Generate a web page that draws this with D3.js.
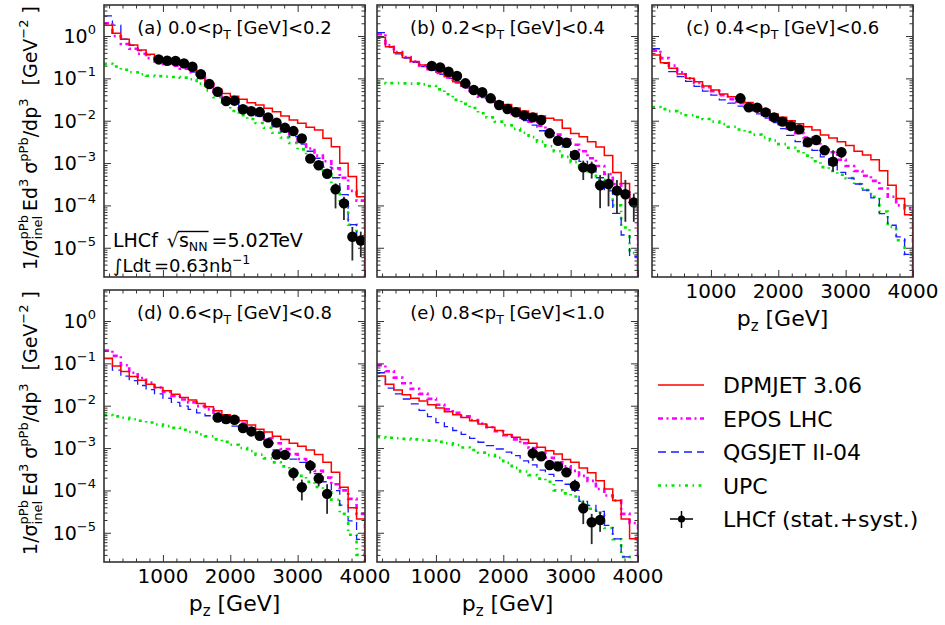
<!DOCTYPE html>
<html><head><meta charset="utf-8">
<script src="https://cdn.jsdelivr.net/npm/d3@7"></script>
<style>
body{margin:0;background:#fff}
text{font-family:"DejaVu Sans",sans-serif;fill:#000}
</style>
</head><body><svg id="c" width="945" height="625"></svg>
<script>
// ---------------- DATA ----------------
const binEdges = [125,250,375,500,625,750,875,1000,1125,1250,1375,1500,1625,1750,1875,2000,
  2125,2250,2375,2500,2625,2750,2875,3000,3125,3250,3375,3500,3625,3750,3875,4000];

const panelTags = ['(a)','(b)','(c)','(d)','(e)'];
const ptLow  = ['0.0','0.2','0.4','0.6','0.8'];
const ptHigh = ['0.2','0.4','0.6','0.8','1.0'];

const seriesNames = ['DPMJET 3.06','EPOS LHC','QGSJET II-04','UPC'];
const dataName = 'LHCf (stat.+syst.)';

// panel (a) 0.0<pT<0.2
const dpmjetA = [1.8,1.16,0.84,0.61,0.47,0.37,0.30,0.26,0.235,0.205,0.175,0.135,0.079,0.055,0.044,0.038,0.032,0.0266,0.0235,0.0196,0.0163,0.0129,0.0104,0.0087,0.0070,0.0060,0.00384,0.00244,0.00099,0.00048,0.00016];
const eposA   = [2.0,1.0,0.65,0.5,0.38,0.30,0.25,0.22,0.20,0.17,0.14,0.105,0.072,0.048,0.033,0.027,0.021,0.017,0.0135,0.0105,0.008,0.0062,0.0048,0.0033,0.0022,0.0015,0.0011,0.00075,0.00045,0.00022,0.00013];
const qgsA    = [3.0,1.8,0.84,0.6,0.45,0.36,0.29,0.24,0.21,0.18,0.14,0.10,0.07,0.045,0.030,0.026,0.019,0.016,0.013,0.010,0.0075,0.0055,0.0042,0.0028,0.0019,0.0013,0.0008,0.00045,0.00018,3.5e-5,1.5e-5];
const upcA    = [0.22,0.19,0.16,0.14,0.125,0.115,0.113,0.11,0.108,0.104,0.095,0.075,0.052,0.036,0.024,0.017,0.0135,0.011,0.0088,0.0068,0.0052,0.0040,0.0030,0.0021,0.0014,0.0009,0.00055,0.00028,0.00011,3.5e-5,1.3e-5];
const lhcfStartA = 6;
const lhcfA   = [0.28,0.26,0.257,0.226,0.188,0.125,0.0736,0.0484,0.0292,0.0297,0.0186,0.0167,0.016,0.012,0.0090,0.0068,0.0057,0.0038,0.00127,0.00089,0.00056,0.00024,0.000112,1.82e-5,1.48e-5];
const lhcfLoA = [0.26,0.24,0.24,0.21,0.175,0.116,0.068,0.045,0.027,0.0275,0.0172,0.0154,0.0148,0.011,0.0083,0.0062,0.0052,0.0034,0.00113,0.00078,0.00045,8.5e-5,4.5e-5,5e-6,6e-6];
const lhcfHiA = [0.30,0.28,0.275,0.243,0.202,0.134,0.079,0.052,0.0315,0.032,0.020,0.018,0.0173,0.013,0.0098,0.0075,0.0063,0.0042,0.00142,0.001,0.00068,0.00033,0.00016,3.1e-5,2.4e-5];

// panel (b) 0.2<pT<0.4
const dpmjetB = [0.93,0.56,0.40,0.31,0.25,0.207,0.173,0.144,0.11,0.083,0.065,0.053,0.042,0.034,0.028,0.024,0.020,0.017,0.0148,0.013,0.0115,0.0104,0.0066,0.0050,0.0042,0.0032,0.0024,0.0015,0.0006,0.00033,0.000134];
const eposB   = [1.1,0.6,0.42,0.32,0.25,0.2,0.165,0.135,0.105,0.08,0.062,0.047,0.037,0.029,0.023,0.018,0.0145,0.0118,0.0095,0.0076,0.006,0.0047,0.0036,0.0027,0.0019,0.0013,0.00085,0.00055,0.00032,0.0002,0.00012];
const qgsB    = [1.2,0.55,0.38,0.30,0.24,0.19,0.155,0.125,0.10,0.078,0.06,0.046,0.035,0.027,0.021,0.0165,0.013,0.010,0.0079,0.0058,0.0044,0.0032,0.0024,0.0015,0.0011,0.0007,0.00045,0.00022,6.5e-5,2e-5,6.3e-6];
const upcB    = [0.078,0.077,0.077,0.076,0.075,0.072,0.066,0.055,0.042,0.031,0.025,0.020,0.015,0.012,0.0095,0.0078,0.0064,0.0052,0.0041,0.0032,0.0025,0.0019,0.0014,0.00105,0.0008,0.00058,0.0004,0.00024,0.0001,3e-5,7.5e-6];
const lhcfStartB = 6;
const lhcfB   = [0.196,0.182,0.1435,0.1135,0.0764,0.0531,0.0469,0.0338,0.0235,0.0189,0.0158,0.0134,0.0120,0.0104,0.00504,0.00337,0.00302,0.00155,0.00079,0.00075,0.000299,0.000321,0.000223,0.000183,0.000118];
const lhcfLoB = [0.182,0.169,0.133,0.105,0.071,0.049,0.0435,0.031,0.0218,0.0175,0.0146,0.0124,0.0111,0.0096,0.0046,0.003,0.0027,0.0012,0.000398,0.00043,8.6e-5,9.5e-5,6.4e-5,4.1e-5,4.1e-5];
const lhcfHiB = [0.21,0.195,0.154,0.122,0.082,0.057,0.050,0.0365,0.0252,0.0203,0.017,0.0144,0.0129,0.0112,0.0055,0.0037,0.0033,0.002,0.00114,0.00108,0.00052,0.00057,0.0004,0.0004,0.00019];

// panel (c) 0.4<pT<0.6
const dpmjetC = [0.356,0.234,0.173,0.127,0.10,0.083,0.066,0.053,0.043,0.037,0.032,0.027,0.022,0.018,0.0145,0.012,0.01,0.0085,0.0072,0.006,0.0046,0.0039,0.0032,0.0026,0.0019,0.00155,0.0012,0.00066,0.0003,0.000146,6.0e-5];
const eposC   = [0.45,0.3,0.2,0.14,0.1,0.078,0.062,0.05,0.04,0.032,0.026,0.021,0.017,0.0135,0.0108,0.0085,0.0066,0.0051,0.004,0.0031,0.0024,0.0018,0.0012,0.00085,0.00065,0.0005,0.00038,0.00025,0.00016,0.0001,8.5e-5];
const qgsC    = [0.5,0.226,0.144,0.11,0.085,0.065,0.05,0.04,0.031,0.026,0.022,0.018,0.0145,0.0115,0.009,0.0065,0.0045,0.0032,0.0025,0.002,0.0014,0.0009,0.0006,0.00044,0.00032,0.00023,0.00015,6.4e-5,3.4e-5,1.8e-5,7e-6];
const upcC    = [0.021,0.0188,0.0168,0.015,0.0135,0.0122,0.011,0.0095,0.0083,0.0072,0.0062,0.0054,0.0047,0.004,0.0034,0.0028,0.0023,0.0019,0.0015,0.0011,0.0008,0.00065,0.00053,0.00044,0.00032,0.00023,0.00016,7.2e-5,3.1e-5,1.5e-5,7e-6];
const lhcfStartC = 10;
const lhcfC   = [0.0338,0.0207,0.0203,0.0157,0.0120,0.0095,0.0075,0.00625,0.0031,0.0035,0.0020,0.00108,0.0018];
const lhcfLoC = [0.031,0.019,0.0187,0.0144,0.011,0.0087,0.0068,0.0056,0.0026,0.0031,0.0016,0.00063,0.0013];
const lhcfHiC = [0.0366,0.0225,0.022,0.017,0.013,0.0103,0.0082,0.0069,0.0037,0.0039,0.0025,0.0020,0.0024];

// panel (d) 0.6<pT<0.8
const dpmjetD = [0.132,0.087,0.064,0.049,0.040,0.032,0.027,0.0225,0.0187,0.0157,0.0136,0.0113,0.0094,0.0076,0.0061,0.0053,0.0044,0.0035,0.0028,0.0024,0.0019,0.0016,0.0013,0.0011,0.0009,0.0007,0.00046,0.00027,0.000118,3.9e-5,2.1e-5];
const eposD   = [0.2,0.15,0.09,0.06,0.045,0.035,0.027,0.021,0.017,0.014,0.012,0.0098,0.0082,0.0068,0.0056,0.0046,0.0038,0.0029,0.0023,0.0017,0.0013,0.00095,0.00072,0.00055,0.0004,0.00029,0.0002,0.00014,0.0001,6.3e-5,2.8e-5];
const qgsD    = [0.13,0.069,0.05,0.039,0.03,0.024,0.019,0.015,0.012,0.0098,0.0082,0.0068,0.0058,0.0048,0.004,0.0033,0.0028,0.0023,0.0018,0.0014,0.0009,0.00072,0.00055,0.00046,0.00036,0.00025,0.00016,9.9e-5,4.5e-5,1.9e-5,7e-6];
const upcD    = [0.006,0.0056,0.0052,0.0048,0.0044,0.004,0.0036,0.0033,0.003,0.0027,0.0024,0.0021,0.0019,0.0016,0.0014,0.0012,0.001,0.00085,0.0007,0.00057,0.00046,0.00037,0.00029,0.00022,0.00016,0.00012,9e-5,6e-5,2.8e-5,9e-6,3e-6];
const lhcfStartD = 13;
const lhcfD   = [0.00528,0.00482,0.00466,0.00297,0.00247,0.00195,0.00131,0.00070,0.00069,0.000258,0.000119,0.000384,0.00019,8.3e-5];
const lhcfLoD = [0.0045,0.0044,0.0042,0.0027,0.00225,0.00178,0.0012,0.00063,0.00062,0.00017,5.8e-5,0.00025,0.000125,2.8e-5];
const lhcfHiD = [0.0062,0.0053,0.0051,0.0033,0.0027,0.00213,0.00143,0.00078,0.00077,0.00035,0.00018,0.00052,0.00026,0.00014];

// panel (e) 0.8<pT<1.0
const dpmjetE = [0.0506,0.0322,0.0234,0.0181,0.0151,0.013,0.0106,0.0088,0.0072,0.0061,0.0053,0.0044,0.0037,0.0031,0.0026,0.0021,0.0018,0.0016,0.0013,0.00105,0.00087,0.00072,0.00054,0.00046,0.00034,0.00026,0.000168,0.000108,5.8e-5,2.1e-5,7.2e-6];
const eposE   = [0.09,0.065,0.046,0.034,0.025,0.019,0.0145,0.0105,0.0082,0.0068,0.0056,0.0046,0.0038,0.0031,0.0025,0.002,0.0016,0.0013,0.001,0.00078,0.00059,0.00046,0.00037,0.00029,0.00022,0.000168,0.000108,7.6e-5,5.8e-5,2.8e-5,1.7e-5];
const qgsE    = [0.06,0.026,0.019,0.0144,0.011,0.0078,0.0055,0.004,0.0032,0.0026,0.0021,0.0017,0.00137,0.00114,0.00095,0.0008,0.00066,0.0005,0.0004,0.0003,0.00024,0.00017,0.00014,0.0001,5.5e-5,4.4e-5,3.2e-5,1.5e-5,7.2e-6,2.7e-6,1.5e-6];
const upcE    = [0.0018,0.00175,0.0017,0.00165,0.0016,0.00155,0.0015,0.0014,0.0013,0.00118,0.00103,0.0009,0.00078,0.00068,0.00059,0.00045,0.00034,0.00028,0.00023,0.00019,0.00016,0.0001,8.5e-5,7.2e-5,5e-5,3.7e-5,3e-5,1.3e-5,7e-6,2.7e-6,2e-6];
const lhcfStartE = 18;
const lhcfE   = [0.000748,0.000636,0.000398,0.00037,0.000267,0.00013,3.8e-5,1.77e-5,2.0e-5];
const lhcfLoE = [0.0005,0.00055,0.00033,0.00031,0.00023,9.2e-5,1.6e-5,5.4e-6,1.05e-5];
const lhcfHiE = [0.00104,0.00074,0.00048,0.00044,0.00031,0.00018,5.8e-5,2.8e-5,3.1e-5];

const yMajorTicks = [1e-5,1e-4,1e-3,1e-2,1e-1,1];
const yTickExp = ['−5','−4','−3','−2','−1','0'];
const xMajorTicks = [1000,2000,3000,4000];
const xTickLabels = ['1000','2000','3000','4000'];

// ---------------- LAYOUT / STYLE ----------------
const colors = ['#ff0000','#ff00ff','#1a1aff','#00e600'];
const widths = [1.5,2.6,1.3,2.6];
const dashes = [null,'5,3.5,2,3.5','8,5','3,4.5,1.5,4.5'];
const W = 261, H = 272;
const layout = [{x:104,y:5},{x:377,y:5},{x:652,y:5},{x:104,y:290},{x:377,y:290}];
const panels = [
  {series:[dpmjetA,eposA,qgsA,upcA], start:lhcfStartA, d:lhcfA, lo:lhcfLoA, hi:lhcfHiA},
  {series:[dpmjetB,eposB,qgsB,upcB], start:lhcfStartB, d:lhcfB, lo:lhcfLoB, hi:lhcfHiB},
  {series:[dpmjetC,eposC,qgsC,upcC], start:lhcfStartC, d:lhcfC, lo:lhcfLoC, hi:lhcfHiC},
  {series:[dpmjetD,eposD,qgsD,upcD], start:lhcfStartD, d:lhcfD, lo:lhcfLoD, hi:lhcfHiD},
  {series:[dpmjetE,eposE,qgsE,upcE], start:lhcfStartE, d:lhcfE, lo:lhcfLoE, hi:lhcfHiE},
];
const yLabelPanels = [0,3], xLabelPanels = [2,3,4];
const FRAME = '#333';

const svg = d3.select('#c');

function rich(parent, segs, x, y, anchor, rot) {
  const g = parent.append('g').attr('transform', `translate(${x},${y}) rotate(${rot||0})`);
  const inner = g.append('g');
  let cx = 0, prevStart = 0;
  segs.forEach(s => {
    if (s.gap !== undefined) { cx += s.gap; s._x0 = s._x1 = cx; return; }
    const start = s.stack ? prevStart : cx;
    const t = inner.append('text').attr('x', start).attr('y', s.dy || 0)
      .attr('font-size', s.fs).text(s.t);
    const w = t.node().getComputedTextLength();
    s._x0 = start; s._x1 = start + w;
    prevStart = start;
    cx = Math.max(cx, start + w);
  });
  const off = anchor === 'middle' ? -cx / 2 : anchor === 'end' ? -cx : 0;
  inner.attr('transform', `translate(${off},0)`);
  return {inner, segs, width: cx};
}

const x = d3.scaleLinear().domain([125, 4000]);
const yMin = 2.04e-6, yMax = 5.4;

const xMinor = d3.range(200, 4001, 200).filter(v => v % 1000 !== 0);
const yMinor = [];
for (let e = -6; e <= 0; e++) for (let k = 2; k <= 9; k++) { const v = k * Math.pow(10, e); if (v > yMin && v < yMax) yMinor.push(v); }

panels.forEach((p, pi) => {
  const L = layout[pi];
  const xs = x.copy().range([L.x, L.x + W]);
  const ys = d3.scaleLog().domain([yMin, yMax]).range([L.y + H, L.y]);
  const g = svg.append('g');
  const cid = 'clip' + pi;
  svg.append('clipPath').attr('id', cid).append('rect')
    .attr('x', L.x).attr('y', L.y).attr('width', W).attr('height', H);
  const plot = g.append('g').attr('clip-path', `url(#${cid})`);

  [3,2,1,0].forEach(si => {
    const vals = p.series[si];
    const path = d3.path();
    vals.forEach((v, i) => {
      const yy = ys(v);
      if (i === 0) path.moveTo(xs(binEdges[0]), yy); else path.lineTo(xs(binEdges[i]), yy);
      path.lineTo(xs(binEdges[i + 1]), yy);
    });
    path.lineTo(xs(binEdges[binEdges.length - 1]), L.y + H + 5);
    const el = plot.append('path').attr('d', path.toString()).attr('fill', 'none')
      .attr('stroke', colors[si]).attr('stroke-width', widths[si]);
    if (dashes[si]) el.attr('stroke-dasharray', dashes[si]);
  });

  p.d.forEach((v, k) => {
    const b = p.start + k;
    const cxv = xs((binEdges[b] + binEdges[b + 1]) / 2);
    plot.append('line').attr('x1', cxv).attr('x2', cxv)
      .attr('y1', ys(p.lo[k])).attr('y2', ys(p.hi[k]))
      .attr('stroke', '#2a2a2a').attr('stroke-width', 1.8);
    plot.append('circle').attr('cx', cxv).attr('cy', ys(v)).attr('r', 5.2).attr('fill', '#000');
  });

  const mk = (axis, tx, ty) => {
    const a = g.append('g').attr('transform', `translate(${tx},${ty})`).call(axis.tickFormat(''));
    a.select('.domain').remove();
    a.selectAll('line').attr('stroke', FRAME).attr('stroke-width', 1);
  };
  mk(d3.axisLeft(ys).tickValues(yMajorTicks).tickSize(-7), L.x, 0);
  mk(d3.axisLeft(ys).tickValues(yMinor).tickSize(-3.5), L.x, 0);
  mk(d3.axisRight(ys).tickValues(yMajorTicks).tickSize(-7), L.x + W, 0);
  mk(d3.axisRight(ys).tickValues(yMinor).tickSize(-3.5), L.x + W, 0);
  mk(d3.axisBottom(xs).tickValues(xMajorTicks).tickSize(-7), 0, L.y + H);
  mk(d3.axisBottom(xs).tickValues(xMinor).tickSize(-3.5), 0, L.y + H);
  mk(d3.axisTop(xs).tickValues(xMajorTicks).tickSize(-7), 0, L.y);
  mk(d3.axisTop(xs).tickValues(xMinor).tickSize(-3.5), 0, L.y);

  g.append('rect').attr('x', L.x).attr('y', L.y).attr('width', W).attr('height', H)
    .attr('fill', 'none').attr('stroke', FRAME).attr('stroke-width', 1.6);

  rich(g, [{t: panelTags[pi] + ' ' + ptLow[pi] + '<p', fs: 18}, {t: 'T', fs: 12.5, dy: 4.5},
           {gap: 5.7}, {t: '[GeV]<' + ptHigh[pi], fs: 18}], L.x + W / 2, L.y + 29, 'middle');

  if (yLabelPanels.includes(pi)) {
    yMajorTicks.forEach((v, i) => {
      rich(g, [{t: '10', fs: 19}, {t: yTickExp[i], fs: 13, dy: -9}], L.x - 8, ys(v) + 7, 'end');
    });
    rich(g, [{t: '1/σ', fs: 19}, {t: 'pPb', fs: 13, dy: -9}, {t: 'inel', fs: 13, dy: 5, stack: true},
             {gap: 4}, {t: 'Ed', fs: 19}, {t: '3', fs: 13, dy: -9}, {gap: 5}, {t: 'σ', fs: 19},
             {t: 'pPb', fs: 13, dy: -9}, {t: '/dp', fs: 19}, {t: '3', fs: 13, dy: -9}, {gap: 13},
             {t: '[GeV', fs: 19}, {t: '−2', fs: 13, dy: -9}, {gap: 6}, {t: ']', fs: 19}],
         37, L.y + H / 2 - 3, 'middle', -90);
  }
  if (xLabelPanels.includes(pi)) {
    xMajorTicks.forEach((v, i) => {
      g.append('text').attr('x', xs(v)).attr('y', L.y + H + 21).attr('text-anchor', 'middle')
        .attr('font-size', 20).text(xTickLabels[i]);
    });
    rich(g, [{t: 'p', fs: 22}, {t: 'z', fs: 15, dy: 5}, {gap: 7}, {t: '[GeV]', fs: 22}],
         L.x + W / 2, L.y + H + 49, 'middle');
  }
  if (pi === 0) {
    const r1 = rich(g, [{t: 'LHCf', fs: 19}, {gap: 9}, {t: '√', fs: 19}, {t: 's', fs: 19},
                        {t: 'NN', fs: 12.5, dy: 3.5}, {gap: 4}, {t: '=5.02TeV', fs: 19}], 113, 247, 'start');
    const sq = r1.segs[2], nn = r1.segs[4];
    r1.inner.append('line').attr('x1', sq._x1 - 1).attr('x2', nn._x1 + 1)
      .attr('y1', -15.5).attr('y2', -15.5).attr('stroke', '#000').attr('stroke-width', 1.4);
    rich(g, [{t: '∫Ldt', fs: 18}, {gap: 3}, {t: '=0.63nb', fs: 18}, {t: '−1', fs: 12.5, dy: -8}], 113, 272, 'start');
  }
});

// ---------------- LEGEND ----------------
const leg = svg.append('g');
const legY = [385, 418.5, 452, 485.5];
seriesNames.forEach((n, i) => {
  const l = leg.append('line').attr('x1', 658).attr('x2', 704).attr('y1', legY[i]).attr('y2', legY[i])
    .attr('stroke', colors[i]).attr('stroke-width', widths[i]);
  if (dashes[i]) l.attr('stroke-dasharray', dashes[i]);
  leg.append('text').attr('x', 723).attr('y', legY[i] + 8).attr('font-size', 22).text(n);
});
const my = 519;
leg.append('line').attr('x1', 670).attr('x2', 693).attr('y1', my).attr('y2', my).attr('stroke', '#000').attr('stroke-width', 1.5);
leg.append('line').attr('x1', 681.5).attr('x2', 681.5).attr('y1', my - 8).attr('y2', my + 9).attr('stroke', '#000').attr('stroke-width', 1.5);
leg.append('circle').attr('cx', 681.5).attr('cy', my).attr('r', 3.6).attr('fill', '#000');
leg.append('text').attr('x', 723).attr('y', my + 8).attr('font-size', 22).text(dataName);
</script></body></html>
